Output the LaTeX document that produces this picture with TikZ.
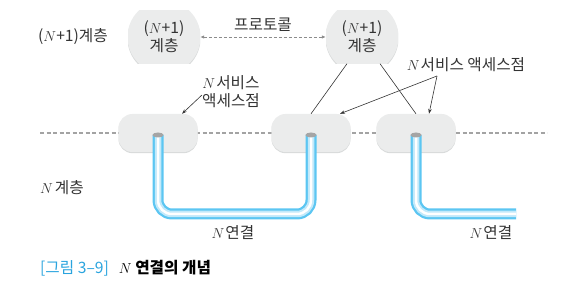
\documentclass[tikz,border=0pt]{standalone}
\usepackage{fontspec}
\newfontfamily\kr[Scale=1.12]{Noto Sans CJK KR}
\usetikzlibrary{arrows.meta}
\definecolor{boxgray}{HTML}{EBECEC}
\definecolor{boxshade}{HTML}{D9DBDB}
\definecolor{pipeblue}{HTML}{5CC6F2}
\definecolor{pipelight}{HTML}{C2E9FA}
\definecolor{textgray}{HTML}{333333}
\definecolor{capblue}{HTML}{2AA4DE}
\definecolor{dashgray}{HTML}{8C8C8C}
\definecolor{capgray}{HTML}{A5A5A5}
\tikzset{
  txt/.style={font=\kr\fontsize{14}{18}\selectfont, text=textgray, inner sep=0pt, align=center},
  layerbox/.style={txt, minimum width=72pt, minimum height=53pt,
    path picture={
      \fill[boxshade] ([yshift=-1.5pt]path picture bounding box.center) circle (36.5pt);
      \fill[boxgray] (path picture bounding box.center) circle (36.5pt);}},
  sapbox/.style={minimum width=79pt, minimum height=38pt, inner sep=0pt,
    fill=boxgray, rounded corners=14pt,
    preaction={fill=boxshade, transform canvas={yshift=-1.2pt}}},
  layerline/.style={draw=dashgray!80, line width=1.3pt, dash pattern=on 4pt off 2.5pt},
  proto/.style={draw=dashgray, line width=0.9pt, dash pattern=on 3pt off 2pt,
    {Latex[length=4pt,width=3.5pt]}-{Latex[length=4pt,width=3.5pt]}},
  pipe/.style={line width=11pt, draw=pipeblue, rounded corners=14pt,
    postaction={draw=pipelight, line width=6.5pt},
    postaction={draw=white, line width=2.5pt}},
  link/.style={draw=textgray, line width=0.6pt},
  ptr/.style={link, -{Stealth[length=5pt,width=3.5pt]}}
}
\begin{document}
\begin{tikzpicture}[x=1pt,y=-1pt]
  \useasboundingbox (0,0) rectangle (581,296);
  % upper layer
  \node[txt] (lblUpper) at (73,37) {($N$+1)계층};
  \node[layerbox] (upL) at (164,37) {($N$+1)\\계층};
  \node[layerbox] (upR) at (362,37) {($N$+1)\\계층};
  \draw[proto] (upL) -- node[txt, above=5pt] (lblProto) {프로토콜} (upR);
  % layer boundary
  \coordinate (dashL) at (40,133);
  \coordinate (dashR) at (547,133);
  \draw[layerline] (dashL) -- (dashR);
  % service access points
  \node[sapbox] (boxA) at (158,133) {};
  \node[sapbox] (boxB) at (311,133) {};
  \node[sapbox] (boxC) at (416,133) {};
  % N connections
  \coordinate (bendA) at (235,214);
  \coordinate (pipeEnd) at (516,214);
  \draw[pipe] ([yshift=-2pt]boxA.center) |- (bendA) -| ([yshift=-2pt]boxB.center);
  \draw[pipe] ([yshift=-2pt]boxC.center) |- (pipeEnd);
  \foreach \b in {boxA,boxB,boxC}
    \fill[capgray] ([yshift=-2pt]\b.center) ellipse (5.5pt and 2.5pt);
  % links from upper entity
  \draw[link] ([xshift=-15pt]upR.south) -- (boxB.north);
  \draw[link] ([xshift=18pt]upR.south) -- (boxC.north);
  % labels
  \node[txt] (sapR) at (466,65) {$N$\hspace{1pt}서비스 액세스점};
  \coordinate (fork) at (437,76);
  \draw[ptr] (fork) -- ([xshift=29pt]boxB.north);
  \draw[ptr] (fork) -- ([xshift=13pt]boxC.north);
  \node[txt] (sapL) at (231,92) {$N$\hspace{1pt}서비스\\액세스점};
  \draw[ptr] ([yshift=-3pt]sapL.west) -- ([xshift=24pt]boxA.north);
  \node[txt] (lblLower) at (62,188) {$N$\hspace{2pt}계층};
  \node[txt] (connA) at (233,233) {$N$\hspace{1pt}연결};
  \node[txt] (connC) at (491,233) {$N$\hspace{1pt}연결};
  \node[txt, anchor=west] (caption) at (40,268)
    {\textcolor{capblue}{[그림 3–9]}\hspace{10pt}\textcolor{black}{$N$ \bfseries 연결의 개념}};
\end{tikzpicture}
\end{document}
